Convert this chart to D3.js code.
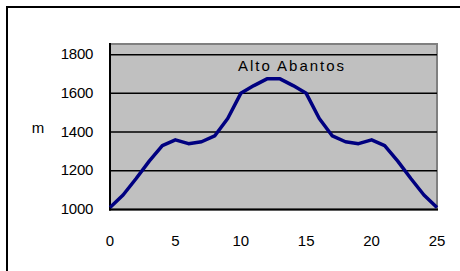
<!DOCTYPE html>
<html>
<head>
<meta charset="utf-8">
<script src="https://cdn.jsdelivr.net/npm/d3@7"></script>
<style>
body { margin: 0; background: #fff; }
text { font-family: "Liberation Sans", Arial, sans-serif; }
</style>
</head>
<body>
<script>
// elevation profile, km 0..25
var km = [0,1,2,3,4,5,6,7,8,9,10,11,12,13,14,15,16,17,18,19,20,21,22,23,24,25]
var alt = [1010,1075,1160,1250,1330,1360,1340,1350,1380,1470,1600,1640,1675,1675,1640,1600,1470,1380,1350,1340,1360,1330,1250,1160,1075,1010]
var y_ticks = [1000,1200,1400,1600,1800]
var x_ticks = [0,5,10,15,20,25]
var title = "Alto Abantos"
var y_label = "m"

var W = 460, H = 271
var left = 110, right = 437, top_ = 44, bottom = 209.5

var svg = d3.select('body').append('svg').attr('width', W).attr('height', H)

// outer frame (runs off the picture on right/bottom)
svg.append('rect').attr('x', 7).attr('y', 7).attr('width', 470).attr('height', 280)
	.attr('fill', 'none').attr('stroke', '#000').attr('stroke-width', 2)

var x = d3.scaleLinear().domain([0,25]).range([left, right])
var y = d3.scaleLinear().domain([1000,1855]).range([bottom, top_])

// plot area
svg.append('rect').attr('x', left).attr('y', top_).attr('width', right-left).attr('height', bottom-top_)
	.attr('fill', '#c0c0c0').attr('stroke', '#808080').attr('stroke-width', 2)

// gridlines
svg.append('g').selectAll('line').data(y_ticks.slice(1)).enter().append('line')
	.attr('x1', left).attr('x2', right)
	.attr('y1', d => y(d)).attr('y2', d => y(d))
	.attr('stroke', '#000').attr('stroke-width', 1.5)

// axes lines
svg.append('line').attr('x1', left).attr('x2', left).attr('y1', top_-1).attr('y2', bottom+1)
	.attr('stroke', '#000').attr('stroke-width', 2)
svg.append('line').attr('x1', left-1).attr('x2', right+1).attr('y1', bottom).attr('y2', bottom)
	.attr('stroke', '#000').attr('stroke-width', 2)

// y labels
svg.append('g').selectAll('text').data(y_ticks).enter().append('text')
	.attr('x', 93).attr('y', d => y(d) + 4.5)
	.attr('text-anchor', 'end').attr('font-size', 15).attr('letter-spacing', -0.3)
	.text(d => d)

// x labels
svg.append('g').selectAll('text').data(x_ticks).enter().append('text')
	.attr('x', d => x(d)).attr('y', 245.5)
	.attr('text-anchor', 'middle').attr('font-size', 15)
	.text(d => d)

svg.append('text').attr('x', 38).attr('y', 133).attr('text-anchor', 'middle')
	.attr('font-size', 15).text(y_label)

// profile line
var line = d3.line().x((d,i) => x(km[i])).y(d => y(d))
svg.append('path').datum(alt).attr('d', line)
	.attr('fill', 'none').attr('stroke', '#000080').attr('stroke-width', 3.5).attr('stroke-linejoin', 'round')

svg.append('text').attr('x', 292).attr('y', 70.5).attr('text-anchor', 'middle')
	.attr('font-size', 15).attr('letter-spacing', 2).text(title)
</script>
</body>
</html>
